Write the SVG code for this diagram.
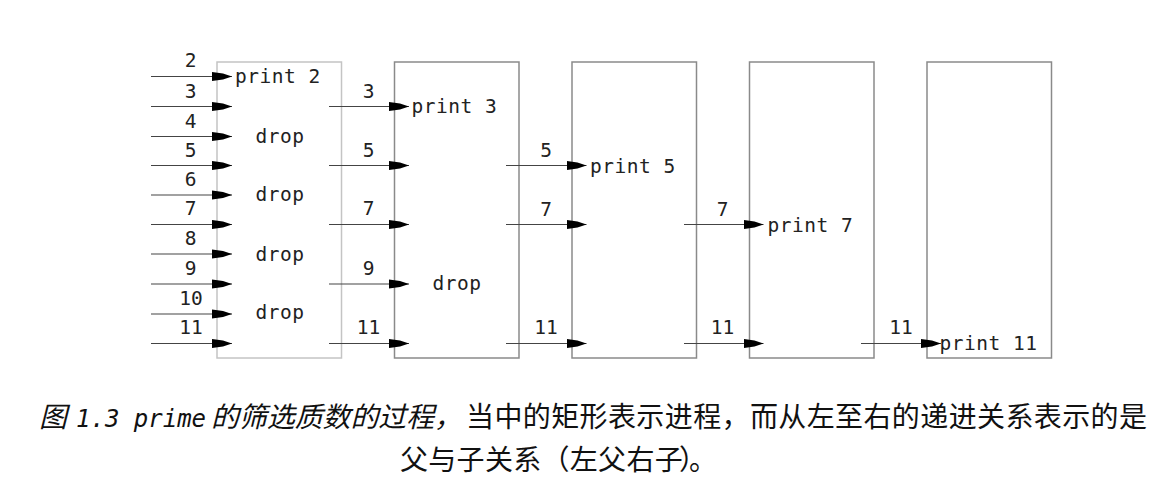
<svg xmlns="http://www.w3.org/2000/svg" width="1156" height="493" viewBox="0 0 1156 493">
<style>
.box{fill:#fff;stroke:#8a8a8a;stroke-width:1.5}
.box1{fill:#fff;stroke:#c4c4c4;stroke-width:1.5}
.ln{stroke:#444;stroke-width:1.2;fill:none;marker-end:url(#ah)}
.t{font-family:"DejaVu Sans Mono","Liberation Mono",monospace;font-size:19.5px;fill:#222;letter-spacing:0.5px}
.n{font-family:"DejaVu Sans Mono","Liberation Mono",monospace;font-size:19.5px;fill:#222;text-anchor:middle}
.cap{font-family:"Noto Sans CJK SC","Noto Sans",sans-serif;font-size:28px;fill:#111}
.it{font-style:italic}
.mono{font-family:"DejaVu Sans Mono","Liberation Mono",monospace;font-size:24px}
</style>
<defs>
<marker id="ah" markerUnits="userSpaceOnUse" viewBox="0 0 20 10" refX="20" refY="5" markerWidth="20" markerHeight="10" orient="auto">
<path d="M0,0.5 L11,2 L20,5 L11,8 L0,9.5 Z" fill="#000"/>
</marker>
</defs>
<g id="p2">
<rect class="box1" x="217" y="62" width="124.5" height="296"/>
<text class="t" x="235" y="82.5">print 2</text>
<text class="t" x="280" y="142.5" text-anchor="middle">drop</text>
<text class="t" x="280" y="200.5" text-anchor="middle">drop</text>
<text class="t" x="280" y="260.5" text-anchor="middle">drop</text>
<text class="t" x="280" y="319" text-anchor="middle">drop</text>
</g>
<g id="p3">
<rect class="box" x="394.5" y="62" width="124.5" height="296"/>
<text class="t" x="411.5" y="112.5">print 3</text>
<text class="t" x="457" y="290" text-anchor="middle">drop</text>
</g>
<g id="p5">
<rect class="box" x="572" y="62" width="124.5" height="296"/>
<text class="t" x="590" y="172.5">print 5</text>
</g>
<g id="p7">
<rect class="box" x="749.5" y="62" width="124.5" height="296"/>
<text class="t" x="767.5" y="231.5">print 7</text>
</g>
<g id="p11">
<rect class="box" x="927" y="62" width="124.5" height="296"/>
<text class="t" x="939.5" y="349.5">print 11</text>
</g>
<g id="connectors">
<line class="ln" x1="151" y1="76.5" x2="232" y2="76.5"/>
<line class="ln" x1="151" y1="106.5" x2="232" y2="106.5"/>
<line class="ln" x1="151" y1="136.5" x2="232" y2="136.5"/>
<line class="ln" x1="151" y1="165.5" x2="232" y2="165.5"/>
<line class="ln" x1="151" y1="195" x2="232" y2="195"/>
<line class="ln" x1="151" y1="224.5" x2="232" y2="224.5"/>
<line class="ln" x1="151" y1="254" x2="232" y2="254"/>
<line class="ln" x1="151" y1="284" x2="232" y2="284"/>
<line class="ln" x1="151" y1="314" x2="232" y2="314"/>
<line class="ln" x1="151" y1="343.5" x2="232" y2="343.5"/>
<text class="n" x="190.5" y="66.5">2</text>
<text class="n" x="190.5" y="98">3</text>
<text class="n" x="190.5" y="128">4</text>
<text class="n" x="190.5" y="157">5</text>
<text class="n" x="190.5" y="186">6</text>
<text class="n" x="190.5" y="215">7</text>
<text class="n" x="190.5" y="245">8</text>
<text class="n" x="190.5" y="275">9</text>
<text class="n" x="191" y="305">10</text>
<text class="n" x="191" y="333.5">11</text>
<line class="ln" x1="329" y1="106.5" x2="409" y2="106.5"/>
<line class="ln" x1="329" y1="165.5" x2="409" y2="165.5"/>
<line class="ln" x1="329" y1="224.5" x2="409" y2="224.5"/>
<line class="ln" x1="329" y1="284" x2="409" y2="284"/>
<line class="ln" x1="329" y1="343.5" x2="409" y2="343.5"/>
<text class="n" x="368.5" y="98">3</text>
<text class="n" x="368.5" y="157">5</text>
<text class="n" x="368.5" y="215">7</text>
<text class="n" x="368.5" y="275">9</text>
<text class="n" x="368.5" y="333.5">11</text>
<line class="ln" x1="506" y1="165.5" x2="586.5" y2="165.5"/>
<line class="ln" x1="506" y1="224.5" x2="586.5" y2="224.5"/>
<line class="ln" x1="506" y1="343.5" x2="586.5" y2="343.5"/>
<text class="n" x="546" y="157">5</text>
<text class="n" x="546" y="215.5">7</text>
<text class="n" x="546" y="333.5">11</text>
<line class="ln" x1="684" y1="224.5" x2="763.5" y2="224.5"/>
<line class="ln" x1="684" y1="343.5" x2="763.5" y2="343.5"/>
<text class="n" x="722.5" y="215.5">7</text>
<text class="n" x="722.5" y="333.5">11</text>
<line class="ln" x1="861" y1="343.5" x2="941" y2="343.5"/>
<text class="n" x="901" y="333.5">11</text>
</g>
<g id="caption">
<text class="cap" y="427"><tspan class="it" x="39">图</tspan><tspan class="it mono" x="76">1.3 prime</tspan><tspan class="it" x="211" textLength="251" lengthAdjust="spacingAndGlyphs">的筛选质数的过程，</tspan><tspan x="466" textLength="681" lengthAdjust="spacing">当中的矩形表示进程，而从左至右的递进关系表示的是</tspan></text>
<text class="cap" y="470" x="400 428.3 456.6 484.9 513.2 541.5 569.8 598.1 626.4 654.7 679 689">父与子关系（左父右子）。</text>
</g>
</svg>
